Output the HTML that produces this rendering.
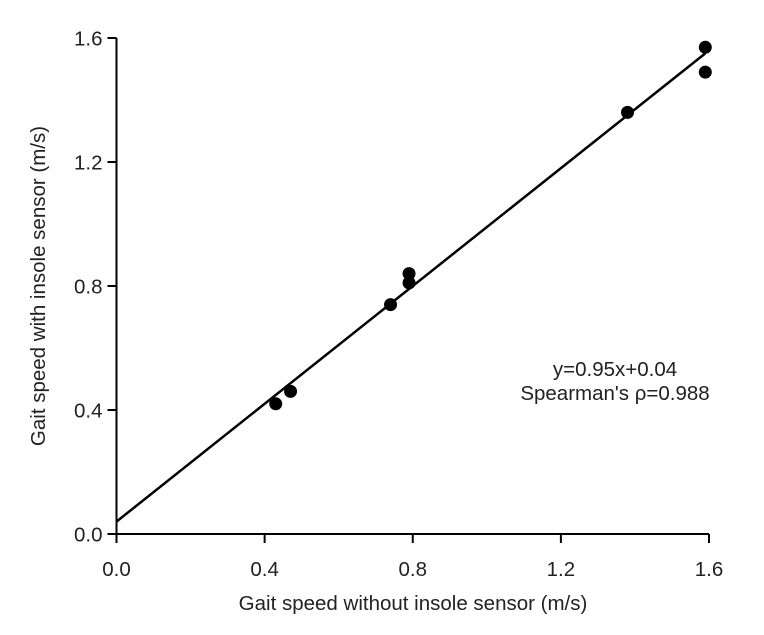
<!DOCTYPE html>
<html><head><meta charset="utf-8"><style>
html,body{margin:0;padding:0;background:#fff;}
svg{display:block;font-family:"Liberation Sans",Arial,sans-serif;}
</style></head><body>
<svg id="chart" width="764" height="635"></svg>
<script>
const xValues=[0.43,0.47,0.74,0.79,0.79,1.38,1.59,1.59];
const yValues=[0.42,0.46,0.74,0.81,0.84,1.36,1.57,1.49];
const tickLabels=["0.0","0.4","0.8","1.2","1.6"];
const tickValues=[0,0.4,0.8,1.2,1.6];
const slope=0.95, intercept=0.04;
const fitRange=[0,1.59];
const NS="http://www.w3.org/2000/svg";
const svg=document.getElementById('chart');
const X0=116.5,X1=709,Y0=534,Y1=38;
const FS=20.5;
const sx=v=>X0+v*(X1-X0)/1.6;
const sy=v=>Y0-v*(Y0-Y1)/1.6;
function mk(t,a,p){const e=document.createElementNS(NS,t);for(const k in a)e.setAttribute(k,a[k]);(p||svg).appendChild(e);return e;}
const yAxis=mk('line',{x1:X0,y1:Y1,x2:X0,y2:Y0+8,stroke:'#000','stroke-width':2});


const xAxis=mk('line',{x1:X0-9,y1:Y0,x2:X1,y2:Y0,stroke:'#000','stroke-width':2});


tickValues.forEach((v,i)=>{
  const yt=mk('line',{x1:X0-9,y1:sy(v),x2:X0,y2:sy(v),stroke:'#000','stroke-width':2});
  
  
  const yl=mk('text',{x:X0-14,y:sy(v)+7.5,'text-anchor':'end','font-size':FS,fill:'#222'});
  yl.textContent=tickLabels[i];
  
  
  const xt=mk('line',{x1:sx(v),y1:Y0,x2:sx(v),y2:Y0+9,stroke:'#000','stroke-width':2});
  
  
  const xl=mk('text',{x:sx(v),y:Y0+42,'text-anchor':'middle','font-size':FS,fill:'#222'});
  xl.textContent=tickLabels[i];
  
  
});
const fit=mk('line',{x1:sx(fitRange[0]),y1:sy(slope*fitRange[0]+intercept),x2:sx(fitRange[1]),y2:sy(slope*fitRange[1]+intercept),stroke:'#000','stroke-width':2.5});


xValues.forEach((x,i)=>{
  const c=mk('circle',{cx:sx(x),cy:sy(yValues[i]),r:6.5,fill:'#000'});
  
  
});
const xt=mk('text',{x:413,y:610,'text-anchor':'middle','font-size':FS,fill:'#222'});
xt.textContent='Gait speed without insole sensor (m/s)';


const yt=mk('text',{x:0,y:0,'text-anchor':'middle','font-size':FS,fill:'#222',transform:'translate(45,286) rotate(-90)'});
yt.textContent='Gait speed with insole sensor (m/s)';


const a1=mk('text',{x:615,y:376,'text-anchor':'middle','font-size':FS,fill:'#222'});
a1.textContent='y=0.95x+0.04';


const a2=mk('text',{x:615,y:400,'text-anchor':'middle','font-size':FS,fill:'#222'});
a2.textContent="Spearman's ρ=0.988";


</script>
</body></html>
